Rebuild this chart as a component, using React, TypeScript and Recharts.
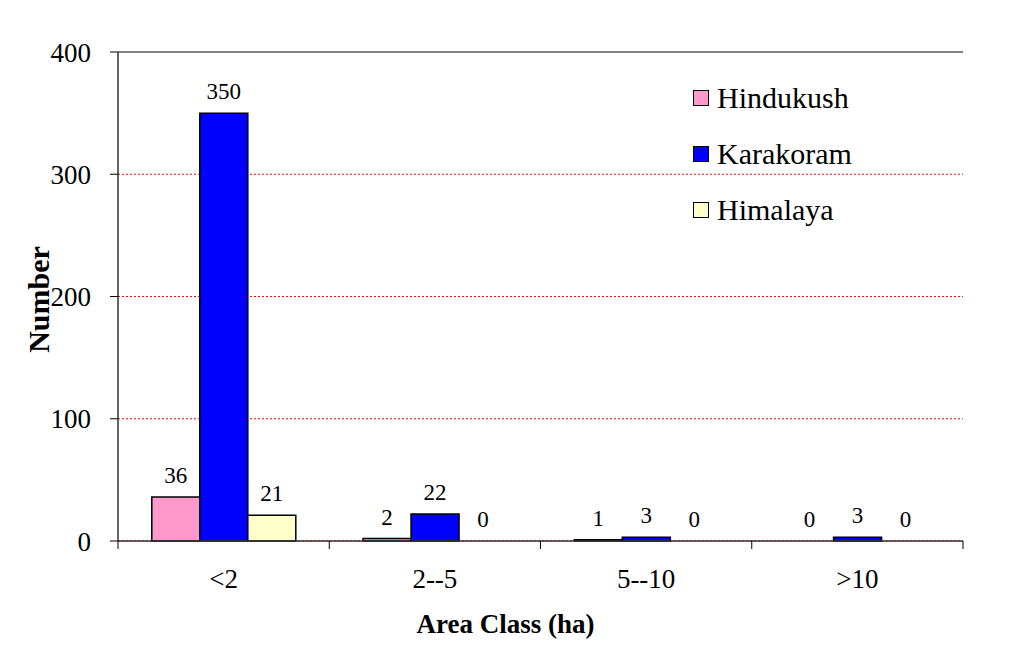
import { BarChart, Bar, XAxis, YAxis, CartesianGrid, Legend, ReferenceLine, Rectangle } from 'recharts';

const areaClasses = ['<2', '2--5', '5--10', '>10'];
const hindukush = [36, 2, 1, 0];
const karakoram = [350, 22, 3, 3];
const himalaya = [21, 0, 0, 0];
const yTicks = [0, 100, 200, 300, 400];
const seriesOrder = ['Hindukush', 'Karakoram', 'Himalaya'];

const data = areaClasses.map((cls, i) => ({
  cls,
  Hindukush: hindukush[i],
  Karakoram: karakoram[i],
  Himalaya: himalaya[i],
}));

const FONT = "'Liberation Serif', 'Times New Roman', Times, serif";

// category label in the middle, tick marks on the category edges
const CategoryTick = (props: any) => {
  const { x, y, payload, width, visibleTicksCount, index } = props;
  const bw = width / visibleTicksCount;
  const top = y - 8;
  return (
    <g>
      <line x1={x - bw / 2} x2={x - bw / 2} y1={top} y2={y} stroke="#000" strokeWidth={1} />
      {index === visibleTicksCount - 1 && (
        <line x1={x + bw / 2} x2={x + bw / 2} y1={top} y2={y} stroke="#000" strokeWidth={1} />
      )}
      <text x={x} y={y + 39} textAnchor="middle" style={{ fontSize: 27, fontFamily: FONT }} fill="#000">
        {payload.value}
      </text>
    </g>
  );
};

// bar + value label; value label also drawn for zero bars
const BarWithValue = (props: any) => {
  const { x, y, width, height, value } = props;
  const v = Array.isArray(value) ? value[1] - value[0] : value;
  return (
    <g>
      {height > 0 && <Rectangle {...props} />}
      <text x={x + width / 2} y={y - 14} textAnchor="middle" style={{ fontSize: 23, fontFamily: FONT }} fill="#000">
        {v}
      </text>
    </g>
  );
};

const renderLegend = (props: any) => {
  const items = [...props.payload].sort(
    (a: any, b: any) => seriesOrder.indexOf(a.value) - seriesOrder.indexOf(b.value)
  );
  return (
    <div style={{ fontFamily: FONT }}>
      {items.map((item: any) => (
        <div key={item.value} style={{ display: 'flex', alignItems: 'center', height: 56 }}>
          <span style={{ display: 'inline-block', width: 14, height: 14, background: item.color, border: '1.5px solid #000', marginRight: 8 }} />
          <span style={{ fontSize: 30, color: '#000' }}>{item.value}</span>
        </div>
      ))}
    </div>
  );
};

const YTitle = (props: any) => {
  const { viewBox } = props;
  const cy = viewBox.y + viewBox.height / 2 + 3;
  const cx = 49;
  return (
    <text x={cx} y={cy} transform={`rotate(-90 ${cx} ${cy})`} textAnchor="middle" style={{ fontSize: 30, fontWeight: 'bold', fontFamily: FONT }} fill="#000">
      Number
    </text>
  );
};

const XTitle = (props: any) => {
  const { viewBox } = props;
  return (
    <text x={viewBox.x + viewBox.width / 2 - 35} y={viewBox.y + 92} textAnchor="middle" style={{ fontSize: 27, fontWeight: 'bold', fontFamily: FONT }} fill="#000">
      Area Class (ha)
    </text>
  );
};

export default function App() {
  return (
    <div style={{ margin: -8, width: 1011, height: 650, position: 'relative', overflow: 'hidden', background: '#fff', fontFamily: FONT }}>
      <div style={{ position: 'absolute', left: 5, top: 5, width: 1030, height: 670, border: '2px solid #000' }} />
      <div style={{ position: 'absolute', left: 0, top: 0 }}>
        <BarChart
          width={1011}
          height={650}
          data={data}
          margin={{ top: 52, right: 48, left: 18, bottom: 49 }}
          barCategoryGap="16%"
          barGap={0}
          style={{ fontFamily: FONT }}
        >
          <CartesianGrid vertical={false} stroke="#ff0000" strokeDasharray="2 2" strokeWidth={1} />
          <XAxis
            dataKey="cls"
            height={60}
            axisLine={{ stroke: '#333', strokeWidth: 1.5 }}
            tickLine={false}
            tickSize={8}
            tickMargin={0}
            tick={<CategoryTick />}
            interval={0}
            label={<XTitle />}
          />
          <YAxis
            width={100}
            domain={[0, 400]}
            ticks={yTicks}
            axisLine={{ stroke: '#333', strokeWidth: 1.5 }}
            tickLine={{ stroke: '#000' }}
            tickSize={8}
            tickMargin={19}
            tick={{ fontSize: 27, fontFamily: FONT, fill: '#000' }}
            label={<YTitle />}
          />
          <YAxis
            yAxisId="frame"
            orientation="right"
            width={0}
            domain={[0, 400]}
            tick={false}
            tickLine={false}
            axisLine={{ stroke: '#808080', strokeWidth: 2 }}
          />
          <ReferenceLine y={400} stroke="#808080" strokeWidth={2} />
          <Legend
            content={renderLegend}
            layout="vertical"
            align="center"
            verticalAlign="middle"
            wrapperStyle={{ left: 693, top: 70, width: 220 }}
          />
          <Bar dataKey="Hindukush" fill="#FF99CC" stroke="#000" strokeWidth={1.5} shape={<BarWithValue />} isAnimationActive={false} />
          <Bar dataKey="Karakoram" fill="#0000FF" stroke="#000" strokeWidth={1.5} shape={<BarWithValue />} isAnimationActive={false} />
          <Bar dataKey="Himalaya" fill="#FFFFCC" stroke="#000" strokeWidth={1.5} shape={<BarWithValue />} isAnimationActive={false} />
        </BarChart>
      </div>
    </div>
  );
}
